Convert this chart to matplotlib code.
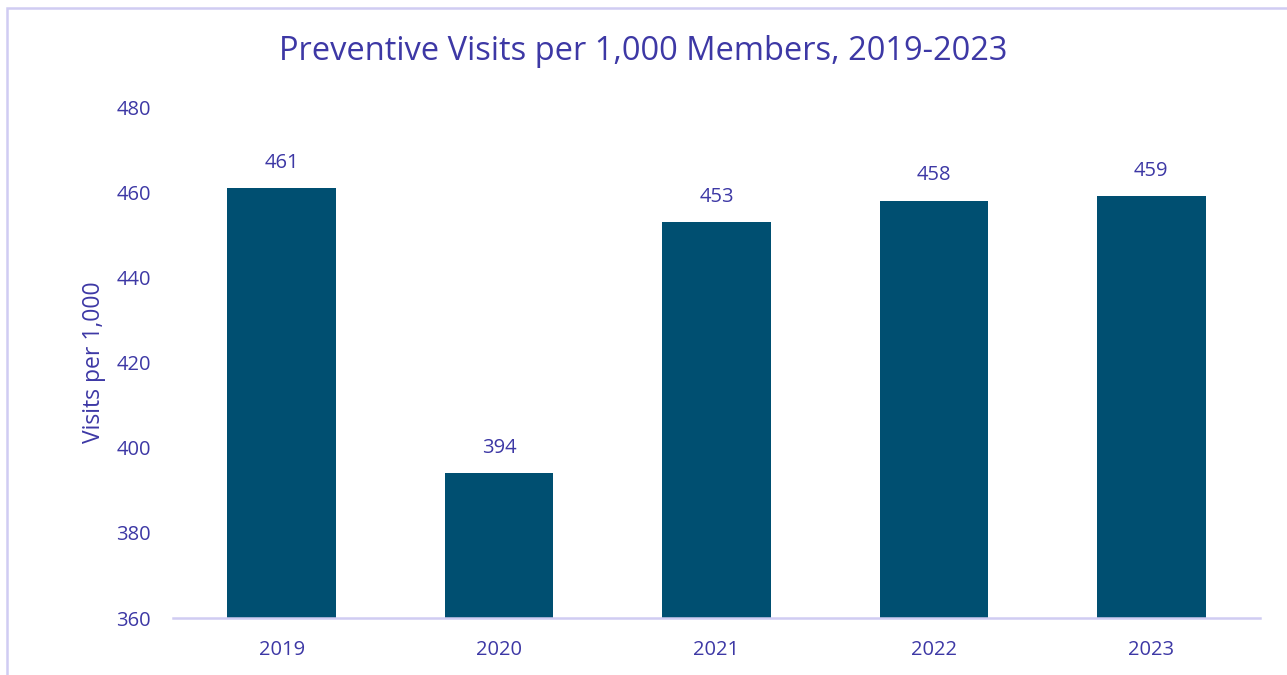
import matplotlib
matplotlib.use("Agg")
import matplotlib.pyplot as plt
from matplotlib.patches import Rectangle

years = ["2019", "2020", "2021", "2022", "2023"]
visits = [461, 394, 453, 458, 459]
yticks = [360, 380, 400, 420, 440, 460, 480]

W, H = 1287, 675
fig = plt.figure(figsize=(W / 100, H / 100), dpi=100)
plt.rcParams['font.family'] = ['Open Sans', 'DejaVu Sans']
txt = "#3D38A5"
bar_c = "#004F71"
line_c = "#D0CCF2"

# frame
fig.patches.append(Rectangle((7 / W, -0.1), 1.2, 1 - 8 / H + 0.1, transform=fig.transFigure,
                             fill=False, edgecolor=line_c, linewidth=1.8))

ax = fig.add_axes([173 / W, 1 - 618 / H, (1260 - 173) / W, (618 - 107) / H])
x = list(range(len(years)))
ax.bar(x, visits, width=0.5, color=bar_c, zorder=2)
ax.set_xlim(-0.5, len(years) - 0.5)
ax.set_ylim(360, 480)
ax.set_yticks(yticks)
ax.set_xticks(x)
ax.set_xticklabels(years)
for s in ["top", "right", "left"]:
    ax.spines[s].set_visible(False)
ax.spines["bottom"].set_color(line_c)
ax.spines["bottom"].set_linewidth(1.8)
ax.tick_params(axis="both", length=0, colors=txt, labelsize=14.5)
ax.tick_params(axis="y", pad=16)
ax.tick_params(axis="x", pad=16)
for xi, v in zip(x, visits):
    ax.annotate(str(v), (xi, v), xytext=(0, 11), textcoords="offset points",
                ha="center", va="bottom", color=txt, fontsize=14.5)
ax.set_ylabel("Visits per 1,000", color=txt, fontsize=16.5, labelpad=7)
fig.text(0.5, 1 - 52 / H, "Preventive Visits per 1,000 Members, 2019-2023",
         ha="center", va="center", color=txt, fontsize=23.5)
fig.savefig("out.png", dpi=100, facecolor="white")
